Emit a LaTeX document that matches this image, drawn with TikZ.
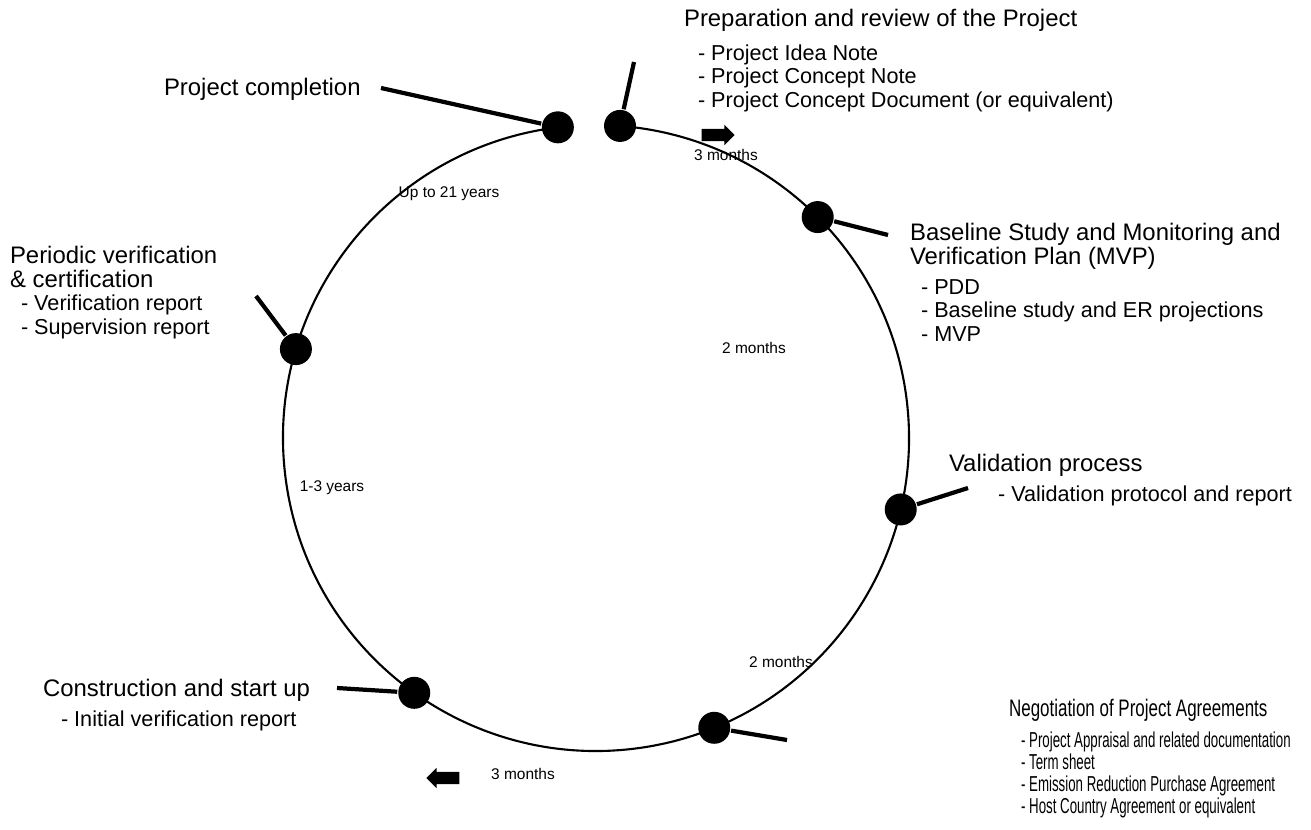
\documentclass[tikz,border=0pt]{standalone}
\usepackage{fontspec}
\setmainfont{Liberation Sans}
\newfontfamily\narrowfont[FakeStretch=0.71]{Liberation Sans}
\newfontfamily\narrowerfont[FakeStretch=0.615]{Liberation Sans}
\usetikzlibrary{calc,shapes.arrows}
\tikzset{
  dot/.style={circle,fill,inner sep=0pt,minimum size=0.64cm},
  lead/.style={line width=2.4pt},
  ttl/.style={anchor=base west,inner sep=0pt,align=left,font=\fontsize{13.6}{13.6}\selectfont},
  itm/.style={anchor=base west,inner sep=0pt,align=left,font=\fontsize{12.3}{13.6}\selectfont},
  dur/.style={anchor=base,inner sep=0pt,font=\fontsize{8.8}{10}\selectfont},
  blk/.style={single arrow,fill,draw=none,inner xsep=0pt,inner ysep=0.1cm,
    single arrow head extend=0.08cm,minimum height=0.66cm}
}
\begin{document}
\begin{tikzpicture}[x=0.02cm,y=0.02cm,line width=1.2pt]
\useasboundingbox (0,0) rectangle (1311,829);
\coordinate (c) at (596,391);
% ring, open between the two top dots
\draw (c) ++(97:313) arc[start angle=97,end angle=445.6,radius=313];
\foreach \n/\a in {cmp/97,prp/85.6,bsl/44.9,val/-13.2,neg/-67.8,con/234.5,per/163.5}
  \node[dot] (\n) at ($(c)+(\a:313)$) {};
% leader lines
\foreach \n/\x/\y in {cmp/381/741,prp/634/767,bsl/888/594,per/256/533,
    val/968/341,neg/787/89,con/337/141}{
  \coordinate (\n e) at (\x,\y);
  \draw[lead] (\n) -- (\n e);
}
% direction arrows
\node[blk] (arR) at (715,694) {};
\node[blk,shape border rotate=180] (arL) at (446,51) {};
% texts (multi-line nodes sit on the baseline of their last line)
\node[ttl] (tprp) at (683,802.4) {Preparation and review of the Project};
\node[itm] (iprp) at (697,721.2) {- Project Idea Note\\- Project Concept Note\\
  - Project Concept Document (or equivalent)};
\node[ttl] (tcmp) at (163,733.4) {Project completion};
\node[ttl] (tbsl) at (909,564.4) {Baseline Study and Monitoring and\\Verification Plan (MVP)};
\node[itm] (ibsl) at (920,487.2) {- PDD\\- Baseline study and ER projections\\- MVP};
\node[ttl] (tper) at (9,541.4) {Periodic verification\\\& certification};
\node[itm] (iper) at (20,494.2) {- Verification report\\- Supervision report};
\node[ttl] (tval) at (948,357.4) {Validation process};
\node[itm] (ival) at (997,327.2) {- Validation protocol and report};
\node[ttl,font=\narrowfont\fontsize{13.6}{13.6}\selectfont] (tneg) at (1008,112.4)
  {Negotiation of Project Agreements};
\node[itm,font=\narrowerfont\fontsize{12.3}{12.5}\selectfont] (ineg) at (1020,15.2)
  {- Project Appraisal and related documentation\\- Term sheet\\
  - Emission Reduction Purchase Agreement\\- Host Country Agreement or equivalent};
\node[ttl] (tcon) at (42,132.4) {Construction and start up};
\node[itm] (icon) at (60,102.2) {- Initial verification report};
% durations
\node[dur] (d1) at (726,668.4) {3 months};
\node[dur] (d2) at (449,631.4) {Up to 21 years};
\node[dur] (d3) at (754,475.4) {2 months};
\node[dur] (d4) at (332,337.4) {1-3 years};
\node[dur] (d5) at (781,161.4) {2 months};
\node[dur] (d6) at (523,49.4) {3 months};
\end{tikzpicture}
\end{document}
